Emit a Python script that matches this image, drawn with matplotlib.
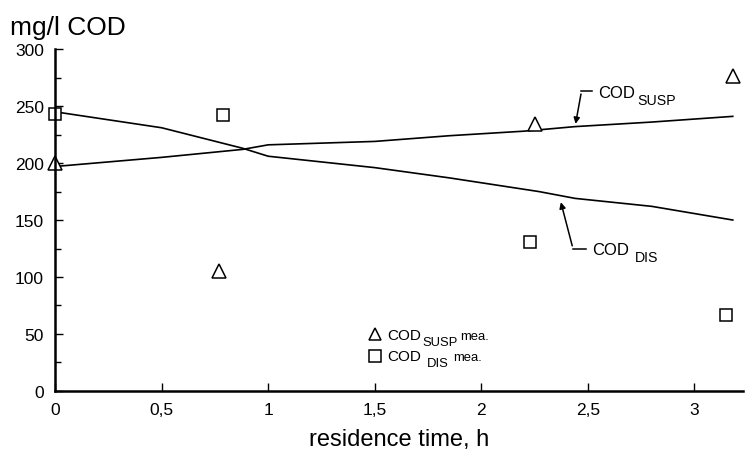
import matplotlib
matplotlib.use("Agg")
import matplotlib.pyplot as plt
from matplotlib.ticker import MultipleLocator

plt.rcParams['font.family'] = ['Liberation Sans', 'DejaVu Sans']

# model curves
t_susp = [0, 0.5, 0.88, 1.0, 1.5, 1.85, 2.2, 2.44, 2.8, 3.18]
v_susp = [197, 205, 212, 216, 219, 224, 228, 232, 236, 241]
t_dis = [0, 0.5, 0.88, 1.0, 1.5, 1.85, 2.27, 2.44, 2.8, 3.18]
v_dis = [245, 231, 213, 206, 196, 187, 175, 169, 162, 150]

# measurements
t_susp_mea = [0.0, 0.77, 2.25, 3.18]
v_susp_mea = [200, 105, 234, 276]
t_dis_mea = [0.0, 0.79, 2.23, 3.15]
v_dis_mea = [243, 242, 131, 67]

xticks = [0, 0.5, 1, 1.5, 2, 2.5, 3]
xticklabels = ['0', '0,5', '1', '1,5', '2', '2,5', '3']
yticks = [0, 50, 100, 150, 200, 250, 300]

fig = plt.figure(figsize=(7.54, 4.6), dpi=100)
ax = fig.add_axes([0.073, 0.148, 0.913, 0.743])

ax.plot(t_susp, v_susp, color='black', lw=1.2)
ax.plot(t_dis, v_dis, color='black', lw=1.2)
ax.plot(t_susp_mea, v_susp_mea, ls='none', marker='^', ms=10, mfc='white', mec='black', mew=1.1, clip_on=False)
ax.plot(t_dis_mea, v_dis_mea, ls='none', marker='s', ms=9, mfc='white', mec='black', mew=1.1, clip_on=False)

ax.set_xlim(0, 3.23)
ax.set_ylim(0, 300)
ax.set_xticks(xticks)
ax.set_xticklabels(xticklabels)
ax.set_yticks(yticks)
ax.yaxis.set_minor_locator(MultipleLocator(25))
ax.tick_params(axis='both', direction='in', length=6, width=1, labelsize=12.5, pad=8)
ax.tick_params(axis='y', which='minor', direction='in', length=4, width=1)
for s in ['top', 'right']:
    ax.spines[s].set_visible(False)
for s in ['left', 'bottom']:
    ax.spines[s].set_linewidth(1.8)

fig.text(0.013, 0.925, 'mg/l COD', fontsize=19)
ax.set_xlabel('residence time, h', fontsize=17, labelpad=8)


def sub_label(x, y, main, sub, size, sub_dx, tail=None, tail_dx=0):
    ax.text(x, y, main, fontsize=size, va='baseline')
    ax.annotate(sub, xy=(x, y), xytext=(sub_dx, -size * 0.4), textcoords='offset points',
                fontsize=size * 0.85, va='baseline')
    if tail:
        ax.annotate(tail, xy=(x, y), xytext=(tail_dx, 0), textcoords='offset points',
                    fontsize=size * 0.85, va='baseline')


# annotations
ax.plot([2.52, 2.47], [263, 263], color='black', lw=1.1)
ax.annotate('', xy=(2.44, 232), xytext=(2.47, 263),
            arrowprops=dict(arrowstyle='-|>', color='black', lw=1.1, mutation_scale=9))
sub_label(2.55, 258, 'COD', 'SUSP', 12, 28)

ax.plot([2.49, 2.43], [125, 125], color='black', lw=1.1)
ax.annotate('', xy=(2.37, 168), xytext=(2.43, 125),
            arrowprops=dict(arrowstyle='-|>', color='black', lw=1.1, mutation_scale=9))
sub_label(2.52, 120, 'COD', 'DIS', 12, 31)

# legend
ax.plot([1.5], [50], ls='none', marker='^', ms=9, mfc='white', mec='black', mew=1.1)
sub_label(1.56, 46, 'COD', 'SUSP', 11, 25, 'mea.', 52)
ax.plot([1.5], [31], ls='none', marker='s', ms=8, mfc='white', mec='black', mew=1.1)
sub_label(1.56, 27, 'COD', 'DIS', 11, 28, 'mea.', 47)

fig.savefig('out.png', dpi=100)
